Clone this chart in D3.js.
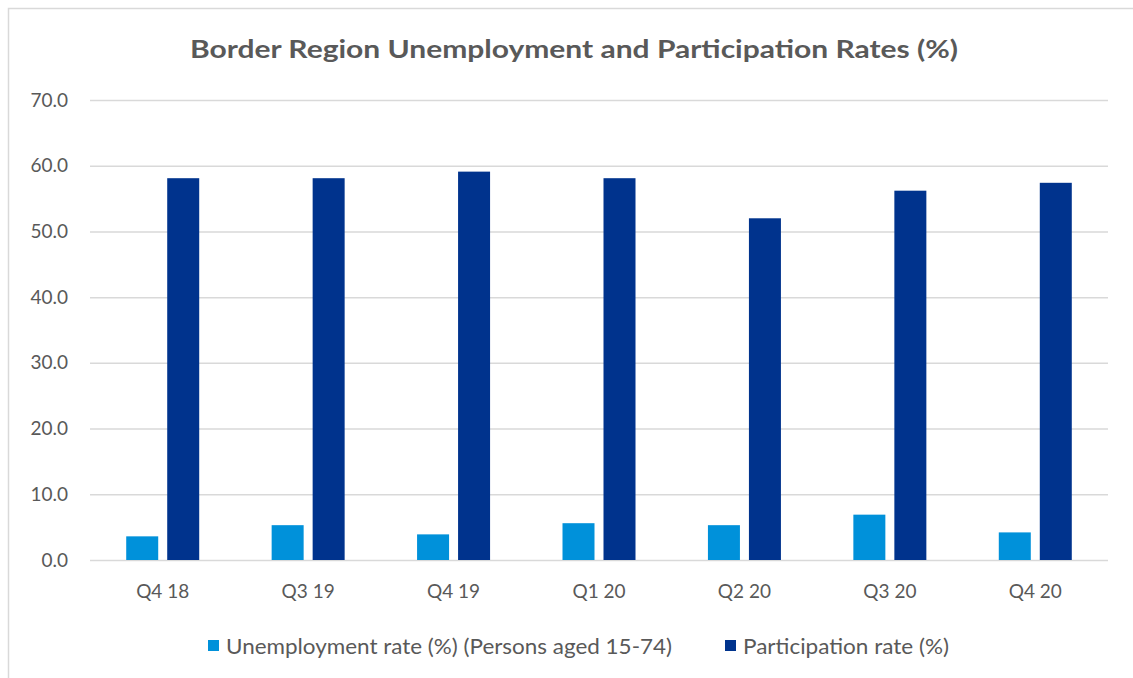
<!DOCTYPE html>
<html>
<head>
<meta charset="utf-8">
<script src="https://cdn.jsdelivr.net/npm/d3@7"></script>
<style>
  html, body { margin: 0; padding: 0; background: #fff; }
  svg { display: block; }
  text { font-family: Lato, "Open Sans", sans-serif; fill: #595959; }
</style>
</head>
<body>
<svg id="chart" width="1133" height="678"></svg>
<script>
// Quarterly figures for the Border region
const quarters = ["Q4 18", "Q3 19", "Q4 19", "Q1 20", "Q2 20", "Q3 20", "Q4 20"];
const unemploymentRate = [3.6, 5.3, 3.9, 5.6, 5.3, 6.9, 4.2];
const participationRate = [58.1, 58.1, 59.1, 58.1, 52.0, 56.2, 57.4];
const yTicks = [0, 10, 20, 30, 40, 50, 60, 70];
const seriesNames = ["Unemployment rate (%) (Persons aged 15-74)", "Participation rate (%)"];
const seriesColors = ["#0091DA", "#00338D"];

const W = 1133, H = 678;
const margin = { left: 90, right: 25, top: 100, bottom: 118 };
const svg = d3.select("#chart");

// Chart frame (left and top edges)
svg.append("path")
  .attr("d", `M8.5,${H} V8.5 H${W}`)
  .attr("fill", "none")
  .attr("stroke", "#d9d9d9")
  .attr("stroke-width", 1.5);

const x = d3.scaleBand()
  .domain(quarters)
  .range([margin.left, W - margin.right]);

const y = d3.scaleLinear()
  .domain([0, 70])
  .range([H - margin.bottom, margin.top]);

// Title
svg.append("text")
  .attr("x", 574)
  .attr("y", 58)
  .attr("text-anchor", "middle")
  .attr("font-size", 25)
  .attr("font-weight", "bold")
  .attr("textLength", 768)
  .attr("lengthAdjust", "spacingAndGlyphs")
  .text("Border Region Unemployment and Participation Rates (%)");

// Horizontal gridlines and value labels
const yAxis = d3.axisLeft(y)
  .tickValues(yTicks)
  .tickFormat(d3.format(".1f"))
  .tickSize(-(W - margin.right - margin.left))
  .tickPadding(22);

const gy = svg.append("g")
  .attr("transform", `translate(${margin.left},0)`)
  .call(yAxis);
gy.select(".domain").remove();
gy.selectAll(".tick line").attr("stroke", "#d9d9d9").attr("stroke-width", 1.5);
gy.selectAll(".tick text")
  .attr("font-size", 19)
  .attr("fill", "#595959")
  .style("font-family", "Lato, 'Open Sans', sans-serif");

// Category labels
const xAxis = d3.axisBottom(x).tickSize(0).tickPadding(25);
const gx = svg.append("g")
  .attr("transform", `translate(0,${H - margin.bottom})`)
  .call(xAxis);
gx.select(".domain").remove();
gx.selectAll(".tick text")
  .attr("font-size", 19)
  .attr("fill", "#595959")
  .style("font-family", "Lato, 'Open Sans', sans-serif");

// Grouped bars
const barW = 32, innerGap = 9;
const series = [unemploymentRate, participationRate];
series.forEach((vals, si) => {
  svg.append("g")
    .selectAll("rect")
    .data(quarters)
    .join("rect")
    .attr("x", (q) => {
      const c = x(q) + x.bandwidth() / 2;
      return si === 0 ? c - innerGap / 2 - barW : c + innerGap / 2;
    })
    .attr("y", (q, i) => y(vals[i]))
    .attr("width", barW)
    .attr("height", (q, i) => y(0) - y(vals[i]))
    .attr("fill", seriesColors[si]);
});

// Legend
const legendItems = [
  { name: seriesNames[0], color: seriesColors[0], x: 208, len: 446 },
  { name: seriesNames[1], color: seriesColors[1], x: 725, len: 206 }
];
const lg = svg.append("g");
legendItems.forEach((d) => {
  lg.append("rect")
    .attr("x", d.x)
    .attr("y", 640)
    .attr("width", 11)
    .attr("height", 11)
    .attr("fill", d.color);
  lg.append("text")
    .attr("x", d.x + 18)
    .attr("y", 654)
    .attr("font-size", 21)
    .attr("textLength", d.len)
    .attr("lengthAdjust", "spacingAndGlyphs")
    .text(d.name);
});
</script>
</body>
</html>
